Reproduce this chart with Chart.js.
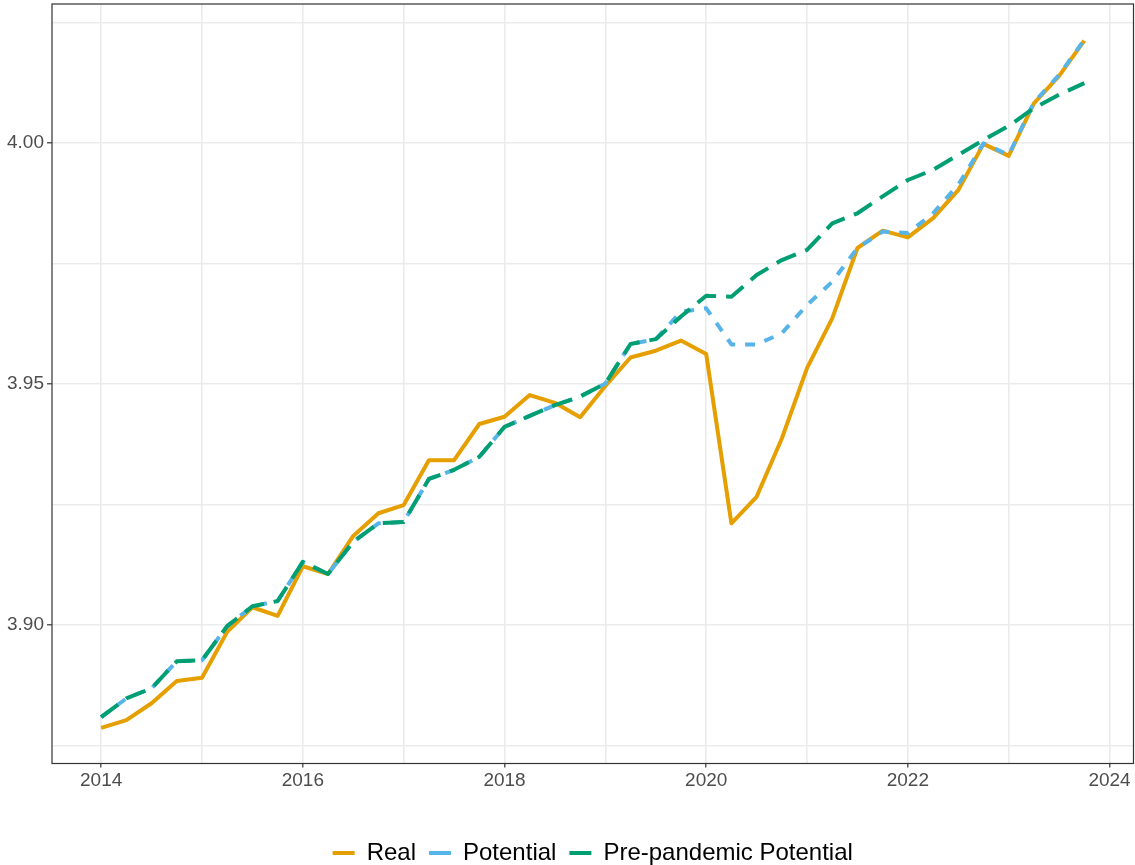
<!DOCTYPE html>
<html>
<head>
<meta charset="utf-8">
<script src="https://cdn.jsdelivr.net/npm/chart.js@4.4.1/dist/chart.umd.min.js"></script>
<style>
  html, body { margin: 0; padding: 0; background: #fff; }
  #chart { display: block; }
</style>
</head>
<body>
<canvas id="chart" width="1135" height="865"></canvas>
<script>
// quarterly observations, 2014Q1 .. 2023Q4
const quarters = [
  2014, 2014.25, 2014.5, 2014.75, 2015, 2015.25, 2015.5, 2015.75,
  2016, 2016.25, 2016.5, 2016.75, 2017, 2017.25, 2017.5, 2017.75,
  2018, 2018.25, 2018.5, 2018.75, 2019, 2019.25, 2019.5, 2019.75,
  2020, 2020.25, 2020.5, 2020.75, 2021, 2021.25, 2021.5, 2021.75,
  2022, 2022.25, 2022.5, 2022.75, 2023, 2023.25, 2023.5, 2023.75,
];

const realValues = [
  3.8787, 3.8803, 3.8838, 3.8884, 3.8891, 3.8986, 3.9037, 3.9019,
  3.9122, 3.9106, 3.9185, 3.9232, 3.9249, 3.9342, 3.9342, 3.9417,
  3.9432, 3.9477, 3.9461, 3.9431, 3.9496, 3.9555, 3.9569, 3.9590,
  3.9562, 3.9211, 3.9266, 3.9387, 3.9533, 3.9636, 3.9782, 3.9818,
  3.9804, 3.9844, 3.9902, 3.9998, 3.9973, 4.0082, 4.0139, 4.0212,
];

const potentialValues = [
  3.8809, 3.8848, 3.8869, 3.8925, 3.8927, 3.8998, 3.9039, 3.9050,
  3.9131, 3.9106, 3.9173, 3.9211, 3.9214, 3.9303, 3.9322, 3.9349,
  3.9411, 3.9434, 3.9456, 3.9474, 3.9501, 3.9583, 3.9593, 3.9650,
  3.9657, 3.9582, 3.9582, 3.9605, 3.9664, 3.9712, 3.9782, 3.9816,
  3.9813, 3.9854, 3.9913, 3.9999, 3.9975, 4.0084, 4.0141, 4.0214,
];

const prePandemicValues = [
  3.8809, 3.8848, 3.8869, 3.8925, 3.8927, 3.8998, 3.9039, 3.9050,
  3.9131, 3.9106, 3.9173, 3.9211, 3.9214, 3.9303, 3.9322, 3.9349,
  3.9411, 3.9434, 3.9456, 3.9474, 3.9501, 3.9583, 3.9593, 3.9640,
  3.9683, 3.9681, 3.9726, 3.9757, 3.9778, 3.9833, 3.9854, 3.9889,
  3.9923, 3.9944, 3.9975, 4.0006, 4.0035, 4.0072, 4.0100, 4.0124,
];

const seriesNames = ["Real", "Potential", "Pre-pandemic Potential"];

const xTicks = [2014, 2015, 2016, 2017, 2018, 2019, 2020, 2021, 2022, 2023, 2024];
const xLabelled = [2014, 2016, 2018, 2020, 2022, 2024];
const yTicks = [3.875, 3.9, 3.925, 3.95, 3.975, 4.0, 4.025];
const yLabelled = [3.9, 3.95, 4.0];

const FONT = "'Liberation Sans', Arial, Helvetica, sans-serif";
const LEGEND_H = 47; // 24px row + 13 padding + 10

const isLabelled = (list, v) => list.some((t) => Math.abs(t - v) < 1e-6);
const toPoints = (vals) => vals.map((v, i) => ({ x: quarters[i], y: v }));

// ggplot-style panel border
const panelBorder = {
  id: "panelBorder",
  afterDraw(chart) {
    const { ctx, chartArea: a } = chart;
    ctx.save();
    ctx.strokeStyle = "#333333";
    ctx.lineWidth = 1.2;
    ctx.strokeRect(a.left, a.top, a.right - a.left, a.bottom - a.top);
    ctx.restore();
  },
};

new Chart(document.getElementById("chart"), {
  type: "line",
  data: {
    datasets: [
      {
        label: seriesNames[0],
        data: toPoints(realValues),
        borderColor: "#E69F00",
        backgroundColor: "#E69F00",
        borderWidth: 4,
        order: 3,
      },
      {
        label: seriesNames[1],
        data: toPoints(potentialValues),
        borderColor: "#56B4E9",
        backgroundColor: "#56B4E9",
        borderWidth: 4,
        borderDash: [10, 10],
        order: 2,
      },
      {
        label: seriesNames[2],
        data: toPoints(prePandemicValues),
        borderColor: "#009E73",
        backgroundColor: "#009E73",
        borderWidth: 4,
        borderDash: [21, 10],
        order: 1,
      },
    ],
  },
  options: {
    responsive: false,
    animation: false,
    devicePixelRatio: 1,
    layout: {
      padding: { left: 0, right: 1.5, top: 4, bottom: -10 },
    },
    elements: {
      point: { radius: 0, hoverRadius: 0 },
      line: {
        tension: 0,
        fill: false,
        borderCapStyle: "butt",
        borderJoinStyle: "round",
      },
    },
    scales: {
      x: {
        type: "linear",
        min: 2013.5125,
        max: 2024.2375,
        afterBuildTicks: (scale) => {
          scale.ticks = xTicks.map((v) => ({ value: v }));
        },
        afterFit: (scale) => {
          scale.height = 865 + 10 - LEGEND_H - 763.5;
          scale.paddingLeft = 0;
          scale.paddingRight = 0;
        },
        border: { display: false },
        grid: {
          color: "#EBEBEB",
          lineWidth: 1.6,
          drawTicks: true,
          tickLength: 4,
          tickWidth: 1.2,
          tickColor: (c) =>
            c.tick && isLabelled(xLabelled, c.tick.value) ? "#333333" : "rgba(0,0,0,0)",
        },
        ticks: {
          autoSkip: false,
          maxRotation: 0,
          padding: 2,
          color: "#4D4D4D",
          font: { family: FONT, size: 19 },
          callback: (v) => (isLabelled(xLabelled, v) ? String(v) : ""),
        },
      },
      y: {
        type: "linear",
        min: 3.8713,
        max: 4.0288,
        afterBuildTicks: (scale) => {
          scale.ticks = yTicks.map((v) => ({ value: v }));
        },
        afterFit: (scale) => {
          scale.width = 52;
          scale.paddingTop = 0;
          scale.paddingBottom = 0;
        },
        border: { display: false },
        grid: {
          color: "#EBEBEB",
          lineWidth: 1.6,
          drawTicks: true,
          tickLength: 5,
          tickWidth: 1.2,
          tickColor: (c) =>
            c.tick && isLabelled(yLabelled, c.tick.value) ? "#333333" : "rgba(0,0,0,0)",
        },
        ticks: {
          autoSkip: false,
          padding: 3,
          color: "#4D4D4D",
          font: { family: FONT, size: 19 },
          callback: (v) => (isLabelled(yLabelled, v) ? v.toFixed(2) : ""),
        },
      },
    },
    plugins: {
      tooltip: { enabled: false },
      legend: {
        display: true,
        position: "bottom",
        fullSize: false,
        labels: {
          usePointStyle: true,
          pointStyle: "line",
          pointStyleWidth: 22,
          boxHeight: 4,
          padding: 13,
          color: "#000000",
          font: { family: FONT, size: 24 },
          sort: (a, b) => a.datasetIndex - b.datasetIndex,
        },
      },
    },
  },
  plugins: [panelBorder],
});
</script>
</body>
</html>
